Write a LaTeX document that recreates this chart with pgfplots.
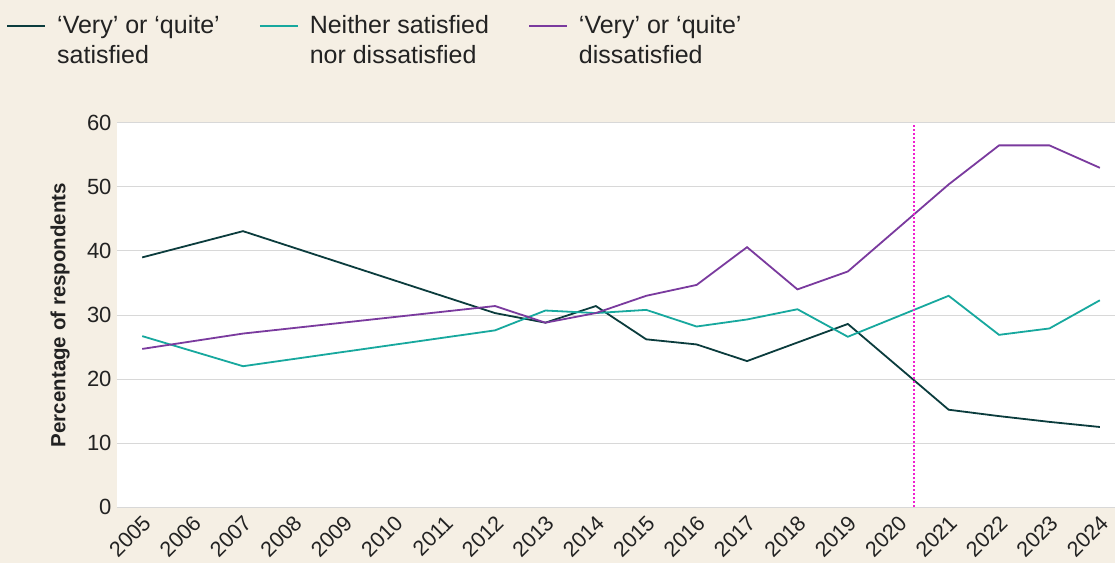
\documentclass[border=0pt]{standalone}
\usepackage{pgfplots}
\pgfplotsset{compat=1.18}
\usepackage{fontspec}
\setmainfont{Liberation Sans}
\definecolor{bg}{HTML}{F5EFE4}
\definecolor{darkc}{HTML}{0B3C3D}
\definecolor{tealc}{HTML}{17A89E}
\definecolor{purpc}{HTML}{7A3A9E}
\definecolor{magc}{HTML}{F020D0}
\definecolor{gridc}{HTML}{D8D8D8}
\definecolor{txt}{HTML}{222222}
\begin{document}
\begin{tikzpicture}
\fill[bg] (-117bp,-56bp) rectangle (998bp,507bp);
\begin{axis}[
  at={(0,0)}, anchor=south west,
  scale only axis, width=998bp, height=384bp,
  xmin=2004.5, xmax=2024.3, ymin=0, ymax=60,
  xtick={2005,...,2024},
  ytick={0,10,...,60},
  axis line style={draw=none},
  major tick length=0pt,
  ymajorgrids, grid style={draw=gridc, line width=1bp},
  axis background/.style={fill=white},
  /pgf/number format/assume math mode=true,
  /pgf/number format/1000 sep={},
  xticklabel style={rotate=45, anchor=east, text=txt, font=\fontsize{21.5bp}{24bp}\selectfont, xshift=-2bp, yshift=-12bp},
  yticklabel style={text=txt, font=\fontsize{22bp}{24bp}\selectfont, xshift=-2bp},
  ylabel={Percentage of respondents},
  every axis y label/.style={at={(axis description cs:-0.0571,0.5)}, rotate=90, anchor=center, text=txt, font=\bfseries\fontsize{20.5bp}{24bp}\selectfont},
  legend style={at={(axis description cs:-0.1112,1.285)}, anchor=north west, draw=none, fill=none, legend columns=3, inner sep=0pt, text=txt, font=\fontsize{25bp}{30bp}\selectfont, cells={align=left, anchor=west}, /tikz/every odd column/.append style={column sep=9bp}, /tikz/every even column/.append style={column sep=37bp}},
  legend image code/.code={\draw[#1, line width=2bp] (0bp,15bp) -- (38bp,15bp);},
  clip=false,
]
\addplot[darkc, line width=1.8bp] coordinates {(2005,39.0)(2007,43.1)(2012,30.3)(2013,28.8)(2014,31.4)(2015,26.2)(2016,25.4)(2017,22.8)(2018,25.7)(2019,28.6)(2021,15.2)(2022,14.2)(2023,13.3)(2024,12.5)};
\addlegendentry{‘Very’ or ‘quite’\\satisfied}
\addplot[tealc, line width=1.8bp] coordinates {(2005,26.7)(2007,22.0)(2012,27.6)(2013,30.7)(2014,30.3)(2015,30.8)(2016,28.2)(2017,29.3)(2018,30.9)(2019,26.6)(2021,33.0)(2022,26.9)(2023,27.9)(2024,32.3)};
\addlegendentry{Neither satisfied\\nor dissatisfied}
\addplot[purpc, line width=1.8bp] coordinates {(2005,24.7)(2007,27.1)(2012,31.4)(2013,28.8)(2014,30.3)(2015,33.0)(2016,34.7)(2017,40.6)(2018,34.0)(2019,36.8)(2021,50.4)(2022,56.5)(2023,56.5)(2024,53.0)};
\addlegendentry{‘Very’ or ‘quite’\\dissatisfied}
\addplot[magc, line width=2bp, dash pattern=on 2bp off 2bp, forget plot] coordinates {(2020.32,0)(2020.32,60)};
\end{axis}
\pgfresetboundingbox
\useasboundingbox (-117bp,-56bp) rectangle (998bp,507bp);
\end{tikzpicture}
\end{document}
